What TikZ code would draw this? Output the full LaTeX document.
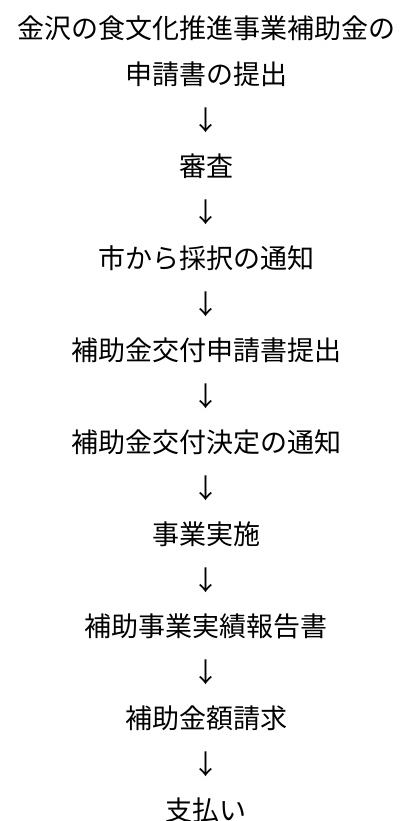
\documentclass[tikz,border=0pt]{standalone}
\usepackage{fontspec}
\newfontfamily\jpfont{Noto Sans CJK JP}
\tikzset{every node/.style={font=\jpfont\fontsize{27}{30}\selectfont, inner sep=0pt}}
\def\Mid{206}
\def\Top{28}
\def\Gap{46}

\begin{document}
\begin{tikzpicture}[x=1pt, y=-1pt]
 \useasboundingbox (0,0) rectangle (412,821);

 % 見出し
 \node (t1) at (\Mid, \Top) {金沢の食文化推進事業補助金の};
 \node (t2) at (\Mid, \Top + \Gap) {申請書の提出};

 % 手順の流れ
 \foreach \txt [count=\i] in {審査, 市から採択の通知, 補助金交付申請書提出,
     補助金交付決定の通知, 事業実施, 補助事業実績報告書, 補助金額請求, 支払い} {
   \node (a\i) at (\Mid, \Top + \Gap*2*\i) {↓};
   \node (s\i) at (\Mid, \Top + \Gap + \Gap*2*\i) {\txt};
 }

\end{tikzpicture}
\end{document}
